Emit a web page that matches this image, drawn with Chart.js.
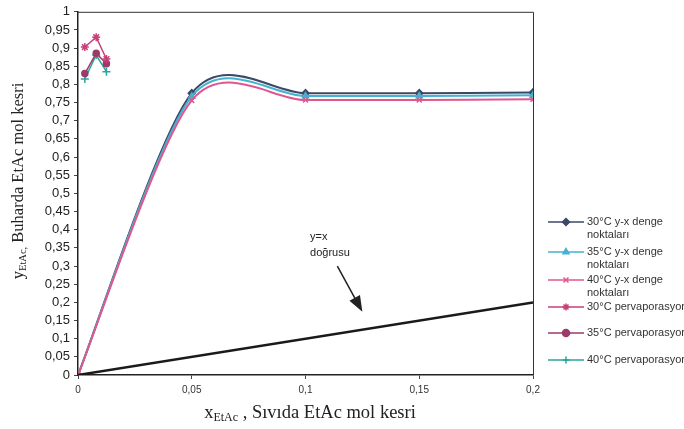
<!DOCTYPE html>
<html>
<head>
<meta charset="utf-8">
<script src="https://cdn.jsdelivr.net/npm/chart.js@4.4.0/dist/chart.umd.min.js"></script>
<style>
  html, body { margin: 0; padding: 0; background: #fff; }
  #wrap { position: relative; width: 684px; height: 429px; }
</style>
</head>
<body>
<div id="wrap"><canvas id="graph" width="684" height="429"></canvas></div>
<script>
// ------------ data -----------------------

var xDenge = [0, 0.05, 0.1, 0.15, 0.2];
var y30Denge = [0, 0.776, 0.776, 0.776, 0.778];
var y35Denge = [0, 0.767, 0.768, 0.768, 0.770];
var y40Denge = [0, 0.756, 0.757, 0.757, 0.759];

var xPerva = [0.003, 0.008, 0.0125];
var y30Perva = [0.903, 0.93, 0.87];
var y35Perva = [0.83, 0.886, 0.857];
var y40Perva = [0.815, 0.881, 0.835];

var xDogru = [0, 0.2];
var yDogru = [0, 0.2];

var xTicks = [0, 0.05, 0.1, 0.15, 0.2];
var yTicks = [0, 0.05, 0.1, 0.15, 0.2, 0.25, 0.3, 0.35, 0.4, 0.45, 0.5,
  0.55, 0.6, 0.65, 0.7, 0.75, 0.8, 0.85, 0.9, 0.95, 1];

var seriesNames = [
  ["30°C y-x denge", "noktaları"],
  ["35°C y-x denge", "noktaları"],
  ["40°C y-x denge", "noktaları"],
  ["30°C pervaporasyon"],
  ["35°C pervaporasyon"],
  ["40°C pervaporasyon"]
];

// ------------ helpers --------------------

function pts(xs, ys) {
  var out = [];
  for (var i = 0; i < xs.length; i++) out.push({ x: xs[i], y: ys[i] });
  return out;
}

function fmt(v) {
  return String(Math.round(v * 100) / 100).replace(".", ",");
}

var colors = ["#3b4866", "#45b2cf", "#e0568f", "#c8407a", "#9c3a68", "#2aa59a"];
var styles = ["rectRot", "triangle", "crossRot", "star", "circle", "cross"];

// ------------ plugin: spreadsheet style smoothing --------
// control points from neighbours, no distance weighting (like the office chart)

var smooth = {
  id: "smooth",
  beforeDatasetDraw: function (chart, args) {
    var ds = chart.data.datasets[args.index];
    if (!ds.smoothK) return;
    var meta = args.meta;
    meta.dataset.updateControlPoints(chart.chartArea, meta.iAxis);
    var p = meta.data;
    var k = ds.smoothK;
    for (var i = 0; i < p.length; i++) {
      var a = p[Math.max(i - 1, 0)], b = p[Math.min(i + 1, p.length - 1)];
      p[i].cp1x = p[i].x - k * (b.x - a.x);
      p[i].cp1y = p[i].y - k * (b.y - a.y);
      p[i].cp2x = p[i].x + k * (b.x - a.x);
      p[i].cp2y = p[i].y + k * (b.y - a.y);
    }
  }
};

// ------------ plugin: frame, titles, note, legend ----------

var extras = {
  id: "extras",
  afterDraw: function (chart) {
    var ctx = chart.ctx;
    var a = chart.chartArea;
    var sx = chart.scales.x, sy = chart.scales.y;
    ctx.save();

    // frame top and right
    ctx.strokeStyle = "#333";
    ctx.lineWidth = 1;
    ctx.beginPath();
    ctx.moveTo(a.left, a.top + 0.5);
    ctx.lineTo(a.right + 0.5, a.top + 0.5);
    ctx.lineTo(a.right + 0.5, a.bottom);
    ctx.stroke();

    // x title
    ctx.fillStyle = "#222";
    ctx.textBaseline = "alphabetic";
    var big = "18.5px 'Liberation Serif'", small = "12px 'Liberation Serif'";
    ctx.font = big; var w1 = ctx.measureText("x").width;
    ctx.font = small; var w2 = ctx.measureText("EtAc").width;
    ctx.font = big; var w3 = ctx.measureText(" , Sıvıda EtAc mol kesri").width;
    var tx = 310 - (w1 + w2 + w3) / 2;
    var ty = 418;
    ctx.font = big; ctx.fillText("x", tx, ty);
    ctx.font = small; ctx.fillText("EtAc", tx + w1, ty + 3);
    ctx.font = big; ctx.fillText(" , Sıvıda EtAc mol kesri", tx + w1 + w2, ty);

    // y title
    big = "16.5px 'Liberation Serif'"; small = "10.5px 'Liberation Serif'";
    ctx.save();
    ctx.translate(23, 181);
    ctx.rotate(-Math.PI / 2);
    ctx.font = big; w1 = ctx.measureText("y").width;
    ctx.font = small; w2 = ctx.measureText("EtAc,").width;
    ctx.font = big; w3 = ctx.measureText(" Buharda EtAc mol kesri").width;
    tx = -(w1 + w2 + w3) / 2;
    ctx.font = big; ctx.fillText("y", tx, 0);
    ctx.font = small; ctx.fillText("EtAc,", tx + w1, 3);
    ctx.font = big; ctx.fillText(" Buharda EtAc mol kesri", tx + w1 + w2, 0);
    ctx.restore();

    // y=x note with arrow
    ctx.font = "11px 'Liberation Sans'";
    ctx.fillStyle = "#222";
    ctx.fillText("y=x", sx.getPixelForValue(0.102), sy.getPixelForValue(0.372));
    ctx.fillText("doğrusu", sx.getPixelForValue(0.102), sy.getPixelForValue(0.327));
    var x0 = sx.getPixelForValue(0.114), y0 = sy.getPixelForValue(0.30);
    var x1 = sx.getPixelForValue(0.125), y1 = sy.getPixelForValue(0.174);
    var ang = Math.atan2(y1 - y0, x1 - x0);
    ctx.strokeStyle = "#222";
    ctx.lineWidth = 1.5;
    ctx.beginPath();
    ctx.moveTo(x0, y0);
    ctx.lineTo(x1 - 12 * Math.cos(ang), y1 - 12 * Math.sin(ang));
    ctx.stroke();
    ctx.beginPath();
    ctx.moveTo(x1, y1);
    ctx.lineTo(x1 - 16 * Math.cos(ang) + 6 * Math.sin(ang), y1 - 16 * Math.sin(ang) - 6 * Math.cos(ang));
    ctx.lineTo(x1 - 16 * Math.cos(ang) - 6 * Math.sin(ang), y1 - 16 * Math.sin(ang) + 6 * Math.cos(ang));
    ctx.closePath();
    ctx.fill();

    // legend
    var rows = [222, 252, 280, 307, 333, 360];
    ctx.font = "11px 'Liberation Sans'";
    ctx.textBaseline = "middle";
    for (var i = 0; i < seriesNames.length; i++) {
      var ly = rows[i];
      ctx.strokeStyle = colors[i];
      ctx.fillStyle = colors[i];
      ctx.lineWidth = 1.5;
      ctx.beginPath();
      ctx.moveTo(548, ly);
      ctx.lineTo(584, ly);
      ctx.stroke();
      Chart.helpers.drawPoint(ctx, {
        pointStyle: styles[i], radius: 3.5, rotation: 0, borderWidth: 1.5
      }, 566, ly);
      ctx.fillStyle = "#333";
      for (var k = 0; k < seriesNames[i].length; k++) {
        ctx.fillText(seriesNames[i][k], 587, ly + k * 13);
      }
    }
    ctx.restore();
  }
};

// ------------ chart ------------------------

var datasets = [];
var dengeY = [y30Denge, y35Denge, y40Denge];
for (var d = 0; d < 3; d++) {
  datasets.push({
    data: pts(xDenge, dengeY[d]),
    borderColor: colors[d],
    backgroundColor: colors[d],
    borderWidth: 2,
    pointStyle: styles[d],
    pointRadius: 3.5,
    pointBorderWidth: 1.5,
    tension: 0.4,
    smoothK: 0.145,
    order: 3 - d
  });
}
var pervaY = [y30Perva, y35Perva, y40Perva];
for (var p = 0; p < 3; p++) {
  datasets.push({
    data: pts(xPerva, pervaY[p]),
    borderColor: colors[p + 3],
    backgroundColor: colors[p + 3],
    borderWidth: 1.5,
    pointStyle: styles[p + 3],
    pointRadius: p === 1 ? 3 : 4,
    pointBorderWidth: 1.5,
    tension: 0
  });
}
datasets.push({
  data: pts(xDogru, yDogru),
  borderColor: "#1a1a1a",
  borderWidth: 2.5,
  pointRadius: 0,
  tension: 0
});

const ctx = document.getElementById("graph");

const myChart = new Chart(ctx, {
  type: "line",
  data: { datasets: datasets },
  plugins: [smooth, extras],
  options: {
    responsive: false,
    animation: false,
    layout: { padding: { top: 8, right: 151, left: 0, bottom: 0 } },
    plugins: { legend: { display: false }, tooltip: { enabled: false } },
    scales: {
      x: {
        type: "linear",
        min: 0,
        max: 0.2,
        afterBuildTicks: function (s) { s.ticks = xTicks.map(function (v) { return { value: v }; }); },
        afterFit: function (s) { s.height = 54; },
        ticks: {
          callback: fmt,
          autoSkip: false,
          maxRotation: 0,
          padding: 5,
          color: "#333",
          font: { family: "'Liberation Sans'", size: 10 }
        },
        grid: { drawOnChartArea: false, drawTicks: true, tickLength: 4, color: "#444" },
        border: { color: "#222", width: 1.5 }
      },
      y: {
        type: "linear",
        min: 0,
        max: 1,
        afterBuildTicks: function (s) { s.ticks = yTicks.map(function (v) { return { value: v }; }); },
        afterFit: function (s) { s.width = 78; },
        ticks: {
          callback: fmt,
          autoSkip: false,
          padding: 4,
          color: "#222",
          font: { family: "'Liberation Sans'", size: 13 }
        },
        grid: { drawOnChartArea: false, drawTicks: true, tickLength: 4, color: "#444" },
        border: { color: "#222", width: 1.5 }
      }
    }
  }
});
</script>
</body>
</html>
